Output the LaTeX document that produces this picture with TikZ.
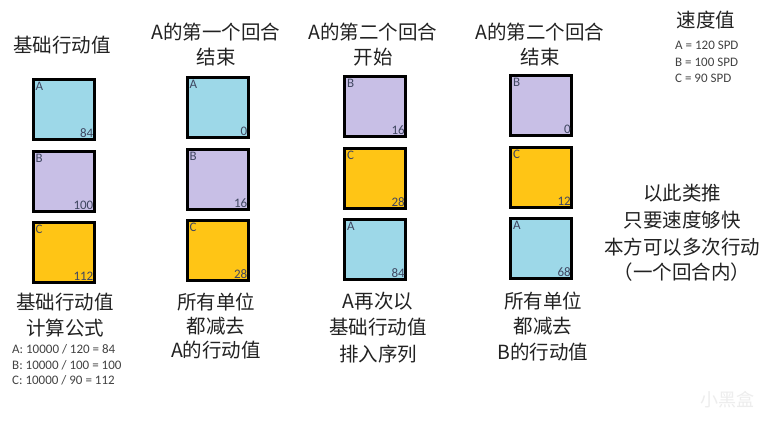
\documentclass[tikz,border=0pt]{standalone}
\usepackage{fontspec}
\setmainfont{Noto Sans CJK SC}
\newfontfamily\latinf{Carlito}
\definecolor{ucyan}{HTML}{9DD8E8}
\definecolor{ulav}{HTML}{C8BFE6}
\definecolor{ugold}{HTML}{FFC515}
\definecolor{utext}{HTML}{3F4660}
\definecolor{heading}{HTML}{222222}
\tikzset{
  unitbox/.style={draw=black, line width=3pt, minimum width=61pt, minimum height=60pt, inner sep=0pt},
  captxt/.style={font=\fontsize{19.5}{21}\selectfont, text=heading, inner sep=0pt},
  smalltxt/.style={font=\latinf\fontsize{13}{15}\selectfont, text=utext, inner sep=0pt},
  formula/.style={font=\latinf\fontsize{13}{15}\selectfont, text=heading!85, inner sep=0pt, anchor=west},
  spd/.style={font=\latinf\fontsize{13}{15}\selectfont, text=heading!85, inner sep=0pt, anchor=west},
}
\newcommand\mybox[6]{%
  \node[unitbox, fill=#4] (#1) at (#2,#3) {};
  \node[smalltxt, anchor=north west] (#1l) at ([shift={(4,4)}]#1.north west) {#5};
  \node[smalltxt, anchor=south east] (#1v) at ([shift={(-2,-3)}]#1.south east) {#6};
}
\begin{document}
\begin{tikzpicture}[x=1pt,y=-1pt]
\useasboundingbox[fill=white] (0,0) rectangle (768,432);
% column 1
\node[captxt] (t1) at (62,45) {基础行动值};
\mybox{a1}{63.5}{109}{ucyan}{A}{84}
\mybox{b1}{63.5}{181}{ulav}{B}{100}
\mybox{c1}{63.5}{252.5}{ugold}{C}{112}
\node[captxt] (f1) at (65,302) {基础行动值};
\node[captxt] (f2) at (65,328) {计算公式};
\node[formula] (e1) at (12,349) {A: 10000 / 120 = 84};
\node[formula] (e2) at (12,365) {B: 10000 / 100 = 100};
\node[formula] (e3) at (12,380) {C: 10000 / 90 = 112};
% column 2
\node[captxt] (t2a) at (216,32) {A的第一个回合};
\node[captxt] (t2b) at (216,57) {结束};
\mybox{a2}{217.5}{107.5}{ucyan}{A}{0}
\mybox{b2}{217.5}{179.5}{ulav}{B}{16}
\mybox{c2}{217.5}{250.5}{ugold}{C}{28}
\node[captxt] (g1) at (216,302) {所有单位};
\node[captxt] (g2) at (216,326) {都减去};
\node[captxt] (g3) at (216,350) {A的行动值};
% column 3
\node[captxt] (t3a) at (373,32) {A的第二个回合};
\node[captxt] (t3b) at (373,57) {开始};
\mybox{b3}{375}{106.5}{ulav}{B}{16}
\mybox{c3}{375}{178.5}{ugold}{C}{28}
\mybox{a3}{375}{249.5}{ucyan}{A}{84}
\node[captxt] (h1) at (378,301) {A再次以};
\node[captxt] (h2) at (378,327) {基础行动值};
\node[captxt] (h3) at (378,354) {排入序列};
% column 4
\node[captxt] (t4a) at (540,32) {A的第二个回合};
\node[captxt] (t4b) at (540,57) {结束};
\mybox{b4}{541}{105}{ulav}{B}{0}
\mybox{c4}{541}{177.5}{ugold}{C}{12}
\mybox{a4}{541}{248.5}{ucyan}{A}{68}
\node[captxt] (k1) at (543,301) {所有单位};
\node[captxt] (k2) at (543,326) {都减去};
\node[captxt] (k3) at (543,352) {B的行动值};
% speed legend
\node[captxt] (sp) at (706,20) {速度值};
\node[spd] (sa) at (675,45) {A = 120 SPD};
\node[spd] (sb) at (675,62) {B = 100 SPD};
\node[spd] (sc) at (675,78) {C = 90 SPD};
% right note
\node[captxt] (n1) at (682,193) {以此类推};
\node[captxt] (n2) at (682,220) {只要速度够快};
\node[captxt] (n3) at (682,247) {本方可以多次行动};
\node[captxt] (n4) at (682,272) {（一个回合内）};
% watermark
\node[captxt, font=\fontsize{18}{20}\selectfont, text=black!7] (wm) at (727,400) {小黑盒};
\end{tikzpicture}
\end{document}
